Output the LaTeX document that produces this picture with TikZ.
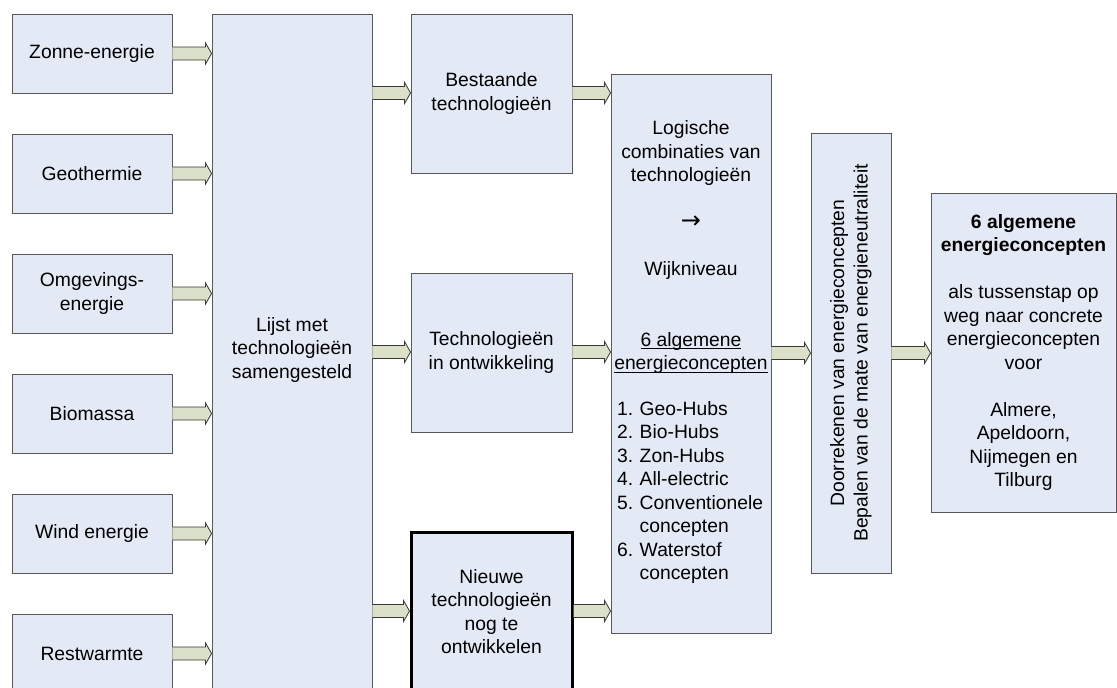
\documentclass[tikz,border=0pt]{standalone}
\usepackage{fontspec}
\setmainfont{Liberation Sans}
\newfontfamily\symfont{DejaVu Sans}
\usetikzlibrary{calc}

\definecolor{boxfill}{RGB}{228,234,245}
\definecolor{boxline}{RGB}{88,88,88}
\definecolor{arrowfill}{RGB}{219,224,200}
\definecolor{arrowline}{RGB}{55,55,55}

\newcommand\diagfont{\fontsize{19.3}{23.5}\selectfont}
% underline sitting just below the baseline, through the descenders
\newcommand\lowrule[1]{{\setbox0\hbox{#1}\rlap{\rule[-2.6pt]{\wd0}{0.9pt}}\box0}}

\tikzset{
  panel/.style={draw=boxline, fill=boxfill, line width=0.9pt, inner sep=0pt,
                align=center, font=\diagfont},
  srcbox/.style={panel, minimum width=160pt, minimum height=79pt},
  techbox/.style={panel, minimum width=161pt, minimum height=159pt},
  plain/.style={inner sep=0pt, font=\diagfont},
  arrowbody/.style={fill=arrowfill},
  arrowedge/.style={draw=arrowline, line width=0.8pt, line join=miter},
}

% block arrow from the right side of #1 to the left side of #2 at height #3
\newcommand\blockarrow[3]{%
  \fill[arrowbody] let \p1=(#1.east), \p2=(#2.west), \p3=(0,#3) in
    (\x1,\y3+6.5pt) -- (\x2-6pt,\y3+6.5pt) -- (\x2-6pt,\y3+10.5pt) -- (\x2,\y3)
    -- (\x2-6pt,\y3-10.5pt) -- (\x2-6pt,\y3-6.5pt) -- (\x1,\y3-6.5pt) -- cycle;
  \draw[arrowedge] let \p1=(#1.east), \p2=(#2.west), \p3=(0,#3) in
    (\x1,\y3+6.5pt) -- (\x2-6pt,\y3+6.5pt) -- (\x2-6pt,\y3+10.5pt) -- (\x2,\y3)
    -- (\x2-6pt,\y3-10.5pt) -- (\x2-6pt,\y3-6.5pt) -- (\x1,\y3-6.5pt);
}

\begin{document}
\begin{tikzpicture}[x=1pt, y=-1pt]
\useasboundingbox (0,0) rectangle (1117,688);
\clip (0,0) rectangle (1117,688);

% energy sources
\node[srcbox] (zon)   at (92,53.5)  {Zonne-energie};
\node[srcbox] (geo)   at (92,173.5) {Geothermie};
\node[srcbox] (omg)   at (92,293.5) {Omgevings-\\energie};
\node[srcbox] (bio)   at (92,413.5) {Biomassa};
\node[srcbox] (wind)  at (92,533.5) {Wind energie};
\node[srcbox] (rest)  at (92,653.5) {Restwarmte};

% list of technologies
\node[panel, minimum width=160pt, minimum height=679pt] (lijst) at (292,353.5) {};
\node[plain, align=center] (lijsttxt) at (292,350) {Lijst met\\technologieën\\samengesteld};

% technology groups
\node[techbox] (best) at (491.5,93.5)  {Bestaande\\technologieën};
\node[techbox] (ontw) at (491.5,352.5) {Technologieën\\in ontwikkeling};
\node[techbox, draw=black, line width=3pt] (nieuw) at (491.5,611.5)
  {Nieuwe\\technologieën\\nog te\\ontwikkelen};

% combinations
\node[panel, minimum width=160pt, minimum height=559pt] (logisch) at (691,353.5) {};
\node[plain, align=center] (logtop) at (691,247.5)
  {Logische\\combinaties van\\technologieën\\\mbox{}\\{\symfont\fontsize{24}{23.5}\selectfont →}\\\mbox{}\\Wijkniveau\\\mbox{}\\\mbox{}\\\lowrule{6 algemene}\\\lowrule{energieconcepten}};
\node[plain, anchor=west] (loglist) at (617,493)
  {\begin{tabular}{@{}l@{\,\,}l@{}}
    1. & Geo-Hubs\\
    2. & Bio-Hubs\\
    3. & Zon-Hubs\\
    4. & All-electric\\
    5. & Conventionele\\
       & concepten\\
    6. & Waterstof\\
       & concepten
   \end{tabular}};

% evaluation
\node[panel, minimum width=80pt, minimum height=440pt] (reken) at (851,353) {};
\node[plain, align=center, rotate=90] (rekentxt) at (851,353)
  {Doorrekenen van energieconcepten\\Bepalen van de mate van energieneutraliteit};

% result
\node[panel, minimum width=185pt, minimum height=319pt] (result) at (1023.5,352.5)
  {\textbf{6 algemene}\\\textbf{energieconcepten}\\\mbox{}\\als tussenstap op\\weg naar concrete\\energieconcepten\\voor\\\mbox{}\\Almere,\\Apeldoorn,\\Nijmegen en\\Tilburg};

% connectors
\blockarrow{zon}{lijst}{53.5}
\blockarrow{geo}{lijst}{173.5}
\blockarrow{omg}{lijst}{293.5}
\blockarrow{bio}{lijst}{413.5}
\blockarrow{wind}{lijst}{533.5}
\blockarrow{rest}{lijst}{653.5}
\blockarrow{lijst}{best}{93}
\blockarrow{lijst}{ontw}{352}
\blockarrow{lijst}{nieuw}{611}
\blockarrow{best}{logisch}{93}
\blockarrow{ontw}{logisch}{352}
\blockarrow{nieuw}{logisch}{611}
\blockarrow{logisch}{reken}{353}
\blockarrow{reken}{result}{353}
\end{tikzpicture}
\end{document}
